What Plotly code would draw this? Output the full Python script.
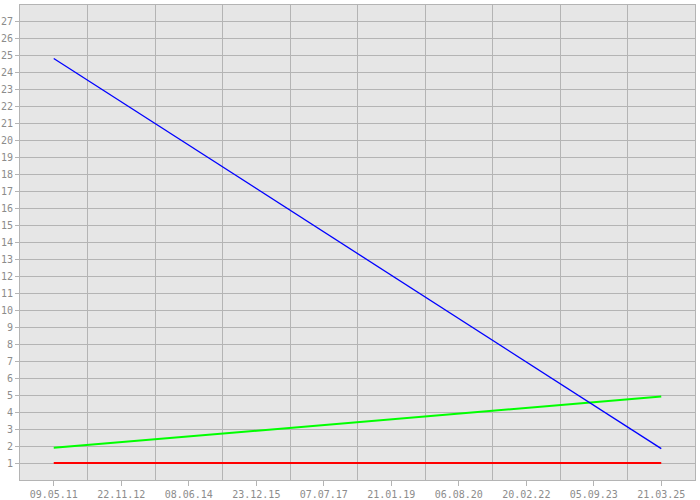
import plotly.graph_objects as go
import pandas as pd

# Data
tick_dates = ["2011-05-09", "2012-11-22", "2014-06-08", "2015-12-23", "2017-07-07",
              "2019-01-21", "2020-08-06", "2022-02-20", "2023-09-05", "2025-03-21"]
tick_labels = ["09.05.11", "22.11.12", "08.06.14", "23.12.15", "07.07.17",
               "21.01.19", "06.08.20", "20.02.22", "05.09.23", "21.03.25"]
x_dates = ["2011-05-09", "2025-03-21"]
blue_vals = [24.85, 1.85]
green_vals = [1.9, 4.92]
red_vals = [1.0, 1.0]
y_ticks = list(range(1, 28))

t0 = pd.Timestamp(tick_dates[0])
t1 = pd.Timestamp(tick_dates[-1])
step = (t1 - t0) / (len(tick_dates) - 1)
x_range = [(t0 - step / 2).isoformat(), (t1 + step / 2).isoformat()]
step_ms = step.total_seconds() * 1000

fig = go.Figure()
fig.add_trace(go.Scatter(x=x_dates, y=red_vals, mode="lines",
                         line=dict(color="#ff0000", width=2), showlegend=False))
fig.add_trace(go.Scatter(x=x_dates, y=green_vals, mode="lines",
                         line=dict(color="#00ff00", width=2), showlegend=False))
fig.add_trace(go.Scatter(x=x_dates, y=blue_vals, mode="lines",
                         line=dict(color="#0000ff", width=1.3), showlegend=False))

grid = "#b4b4b4"
fig.update_layout(
    width=700, height=500,
    margin=dict(l=20, r=5, t=5, b=20),
    paper_bgcolor="#ffffff", plot_bgcolor="#e6e6e6",
    font=dict(family="DejaVu Sans Mono", size=10, color="#8c8c8c"),
    xaxis=dict(
        type="date", range=x_range, automargin=False,
        tickmode="array", tickvals=tick_dates, ticktext=tick_labels,
        ticks="outside", ticklen=5, tickcolor=grid,
        showgrid=False, zeroline=False,
        showline=True, linecolor=grid, mirror=True,
        minor=dict(tick0=(t0 + step / 2).isoformat(), dtick=step_ms,
                   showgrid=True, gridcolor=grid, gridwidth=1, ticks=""),
    ),
    yaxis=dict(
        range=[0, 28], tickmode="array", tickvals=y_ticks, automargin=False,
        ticks="outside", ticklen=4, tickcolor=grid,
        showgrid=True, gridcolor=grid, gridwidth=1, zeroline=False,
        showline=True, linecolor=grid, mirror=True,
    ),
)
fig.write_html("out.html", config={"displayModeBar": False},
               post_script="document.body.style.margin='0';document.body.style.padding='0';")
